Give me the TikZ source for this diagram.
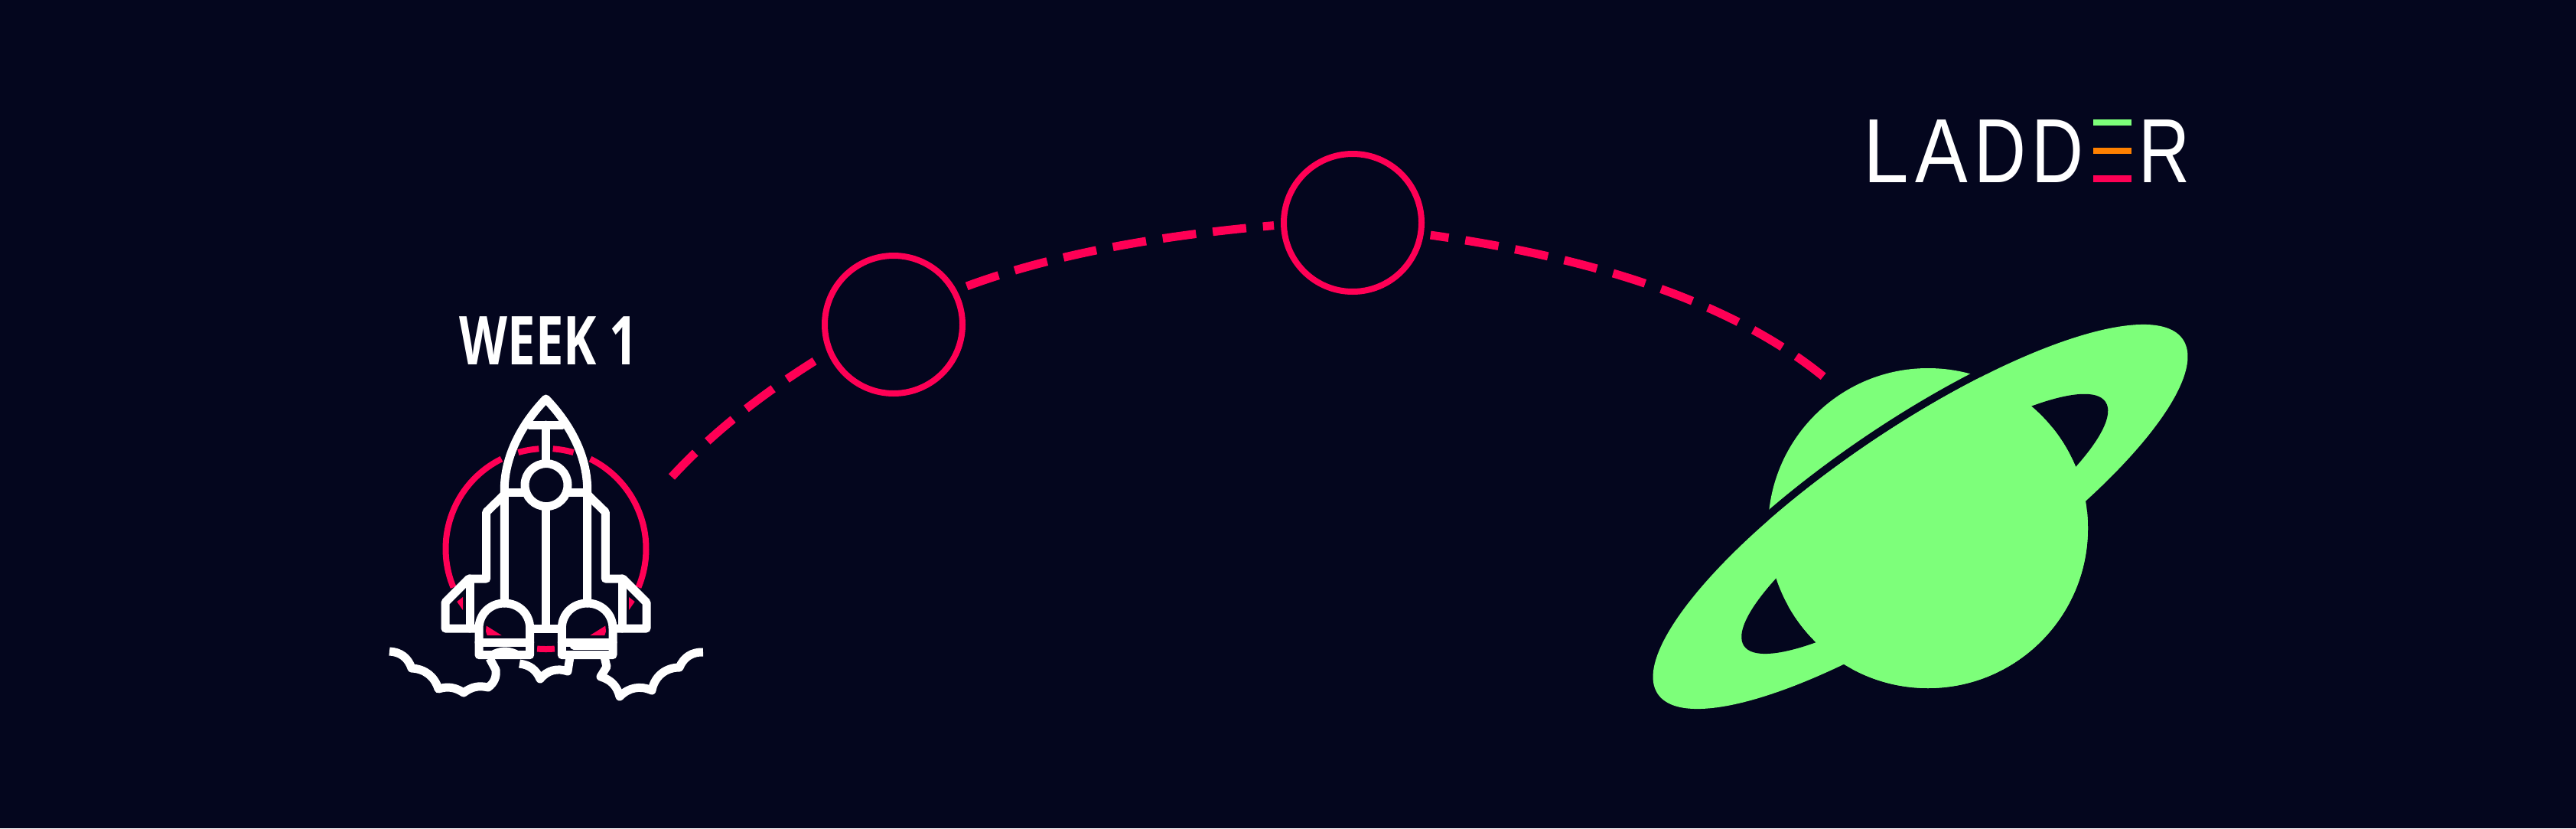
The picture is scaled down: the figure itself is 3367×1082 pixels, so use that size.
\documentclass[tikz,border=0pt]{standalone}
\usepackage{fontspec}
\setmainfont{Liberation Sans}
\newfontfamily\weekfont{Open Sans}
\definecolor{bgc}{RGB}{4,6,30}
\definecolor{redc}{RGB}{255,0,85}
\definecolor{greenc}{RGB}{125,255,122}
\definecolor{orangec}{RGB}{255,128,0}
\newcommand\lgl[3]{\rlap{\hspace*{#1pt}\scalebox{#2}[1]{#3}}}
\tikzset{
  ringnode/.style={circle,draw=redc,line width=8pt,minimum size=180pt,inner sep=0pt,outer sep=13pt},
  trail/.style={draw=redc,line width=11pt,dash pattern=on 44pt off 22pt},
  halo/.style={draw=redc,line width=8pt},
  rocketline/.style={draw=white,line width=11pt,line join=round,line cap=round},
  cloudline/.style={draw=white,line width=11pt,line join=round,line cap=butt},
  redbit/.style={fill=redc,draw=none},
  logobar/.style={fill=#1,draw=none}
}
\begin{document}
\begin{tikzpicture}[x=1pt,y=-1pt]
\useasboundingbox (0,0) rectangle (3367,1082);
\fill[bgc] (0,0) rectangle (3367,1082);

% planet
\fill[greenc] (2520,690) circle [radius=209pt];
\begin{scope}[shift={(2510,675)},rotate=34]
  \path[draw=bgc,line width=20pt] (0,0) ellipse [x radius=414pt,y radius=117pt];
  \path[fill=greenc] (0,0) ellipse [x radius=414pt,y radius=117pt];
  \path[fill=bgc] (-0.5,11) ellipse [x radius=285pt,y radius=70pt];
\end{scope}
\begin{scope}
  \begin{scope}[shift={(2510,675)},rotate=34]
    \clip (0,0) ellipse [x radius=414pt,y radius=117pt];
    \begin{scope}[rotate=-34,shift={(-2510,-675)}]
      \fill[greenc] (2520,690) circle [radius=209pt];
    \end{scope}
  \end{scope}
\end{scope}
\begin{scope}
  \begin{scope}[shift={(2510,675)},rotate=34]
    \clip (-700,0) rectangle (700,500);
    \begin{scope}[rotate=-34,shift={(-2510,-675)}]
      \fill[greenc] (2520,690) circle [radius=209pt];
    \end{scope}
  \end{scope}
\end{scope}

% trajectory
\node[ringnode] (c1) at (1168,424) {};
\node[ringnode] (c2) at (1768,291) {};
\coordinate (launch) at (878,623);
\coordinate (arrive) at (2387,495);
\path[trail,shorten >=11pt] (launch) .. controls (933,563) and (999,513) .. (c1.204);
\path[trail,shorten <=5pt] (c1.28) .. controls (1388,328) and (1534,306) .. (c2.182);
\path[trail,dash phase=20pt] (c2.-9) .. controls (2070,335) and (2260,390) .. (arrive);

% red disc behind the rocket
\foreach \a/\b in {157.4/243.7,254/266,274/286,296.3/382.6,85/95}{
  \draw[halo] plot[domain=\a:\b,samples=40] ({713.5+131*cos(\x)},{717+131*sin(\x)});
}
\fill[redbit] (605,780) -- (597.3,786) -- (605,797) -- cycle;
\fill[redbit] (822,780) -- (829.7,786) -- (822,797) -- cycle;
\fill[redbit] (635.7,817.5) -- (655.7,830) -- (636.7,830) -- (635,825) -- cycle;
\fill[redbit] (791.3,817.5) -- (771.3,830) -- (790.3,830) -- (792,825) -- cycle;

% rocket
\path[rocketline] (659.3,788) -- (659.3,640) .. controls (659.3,600) and (678,558) .. (713.5,521) .. controls (749,558) and (767.7,600) .. (767.7,640) -- (767.7,788);
\path[rocketline] (692,555) -- (735,555);
\path[rocketline] (713.5,555) -- (713.5,601);
\path[rocketline] (659.3,643) -- (686,643);
\path[rocketline] (741,643) -- (767.7,643);
\path[rocketline] (713.5,666) -- (713.5,821);
\path[rocketline] (714,633.6) circle [radius=28pt];
\path[rocketline] (659.3,646) -- (635.7,669) -- (635.7,756) -- (613,756) -- (582,787) -- (582,821) -- (622,821);
\path[rocketline] (614,756) -- (614,821);
\path[rocketline] (767.7,646) -- (791.3,669) -- (791.3,756) -- (814,756) -- (845,787) -- (845,821) -- (805,821);
\path[rocketline] (813,756) -- (813,821);
\path[rocketline] (697,821) -- (730,821);
\path[rocketline] (626,855.7) -- (626,821) .. controls (626,802) and (641,788) .. (659.3,788) .. controls (678,788) and (692.7,802) .. (692.7,821) -- (692.7,855.7) -- cycle;
\path[rocketline] (734.3,855.7) -- (734.3,821) .. controls (734.3,802) and (749,788) .. (767.7,788) .. controls (786,788) and (801,802) .. (801,821) -- (801,855.7) -- cycle;
\path[rocketline] (626,839) -- (692.7,839);
\path[rocketline] (734.3,839) -- (801,839);
\path[rocketline] (750,843) -- (800,843);

% exhaust
\path[cloudline] (509,851) to[bend left=35] (538,873) to[bend left=35] (573,900) to[bend left=25] (606,905) to[bend left=25] (638,898) to[bend right=30] (648,875) -- (640,860);
\path[cloudline] (643,856) to[bend left=30] (677,856);
\path[cloudline] (679,867) to[bend left=30] (706,887) to[bend left=35] (742,877) -- (745,858);
\path[cloudline] (790,858) -- (793,871) -- (785,884) to[bend left=30] (810,910) to[bend left=35] (852,902) to[bend left=40] (888,872) to[bend left=35] (919,852);

% texts
\node[anchor=base,inner sep=0pt,text=white,xscale=0.74,transform shape,font=\weekfont\bfseries\fontsize{88}{96}\selectfont] (week) at (717.5,476) {WEEK 1};

\node[anchor=base west,inner sep=0pt,text=white,font=\fontsize{119}{124}\selectfont] (logo) at (2443,238)
 {\lgl{-8}{0.9}{L}\lgl{60}{0.865}{A}\lgl{136.5}{0.79}{D}\lgl{211.5}{0.79}{D}\lgl{293}{0.77}{\textcolor{bgc}{E}}\lgl{352}{0.78}{R}};
\fill[logobar=greenc] (2736,156) rectangle (2786,164.3);
\fill[logobar=orangec] (2736,192.7) rectangle (2786,201);
\fill[logobar=redc] (2736,229.3) rectangle (2786,237.7);
\end{tikzpicture}
\end{document}
